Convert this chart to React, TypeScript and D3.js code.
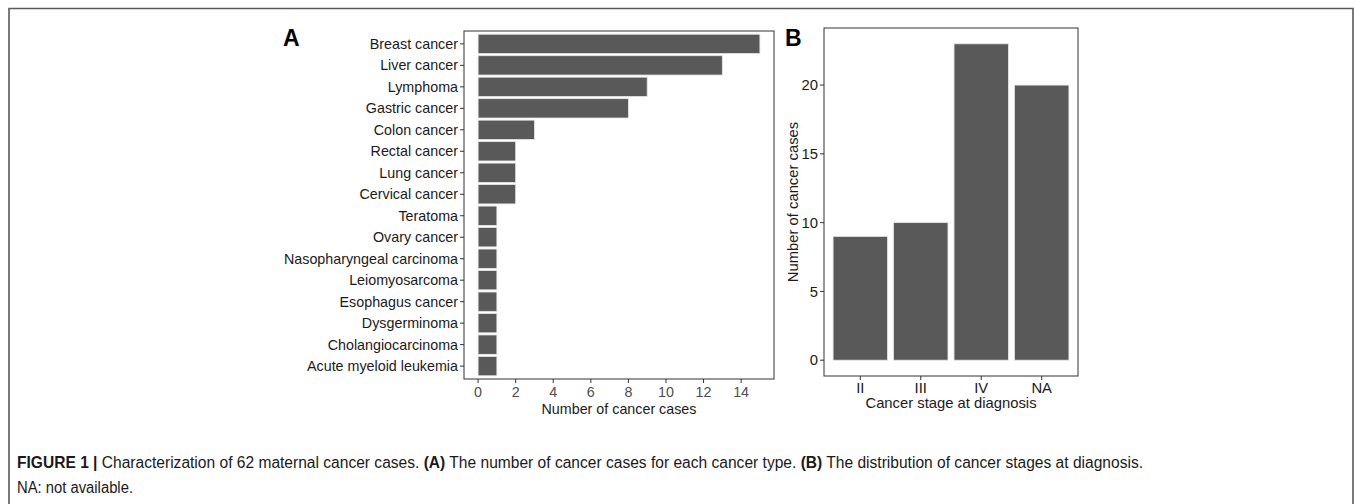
import React from "react";
import * as d3 from "d3";

const cancerTypes = [
  "Breast cancer", "Liver cancer", "Lymphoma", "Gastric cancer", "Colon cancer",
  "Rectal cancer", "Lung cancer", "Cervical cancer", "Teratoma", "Ovary cancer",
  "Nasopharyngeal carcinoma", "Leiomyosarcoma", "Esophagus cancer", "Dysgerminoma",
  "Cholangiocarcinoma", "Acute myeloid leukemia",
];
const cancerCounts = [15, 13, 9, 8, 3, 2, 2, 2, 1, 1, 1, 1, 1, 1, 1, 1];
const xTicksA = [0, 2, 4, 6, 8, 10, 12, 14];

const stages = ["II", "III", "IV", "NA"];
const stageCounts = [9, 10, 23, 20];
const yTicksB = [0, 5, 10, 15, 20];

const FONT = "Liberation Sans, Arial, Helvetica, sans-serif";
const BAR = "#595959";
const BAR_STROKE = "#e6e6e6";
const AXIS = "#333333";
const TEXT = "#1a1a1a";
const FS_A = 14.3;
const FS_B = 14.8;

function PanelA() {
  const left = 464, right = 774, top = 31, bottom = 379;
  const maxV = d3.max(cancerCounts) as number;
  const x = d3.scaleLinear().domain([-maxV * 0.05, maxV * 1.05]).range([left, right]);
  const yIdx = d3.scaleLinear().domain([0.4, cancerTypes.length + 0.6]).range([top, bottom]);
  const bw = (yIdx(1) - yIdx(0)) * 0.9;
  return (
    <g>
      <text x={283} y={46} fontFamily={FONT} fontWeight="bold" fontSize={23} fill="#000">A</text>
      {cancerTypes.map((c, i) => {
        const cy = yIdx(i + 1);
        return (
          <g key={c}>
            <rect x={x(0)} y={cy - bw / 2} width={x(cancerCounts[i]) - x(0)} height={bw}
              fill={BAR} stroke={BAR_STROKE} strokeWidth={0.8} />
            <line x1={left - 4} x2={left} y1={cy} y2={cy} stroke={AXIS} strokeWidth={1} />
            <text x={left - 6} y={cy} dy="0.35em" textAnchor="end" fontFamily={FONT}
              fontSize={FS_A} fill={TEXT}>{c}</text>
          </g>
        );
      })}
      <rect x={left} y={top} width={right - left} height={bottom - top} fill="none"
        stroke={AXIS} strokeWidth={1} />
      {xTicksA.map((t) => (
        <g key={t}>
          <line x1={x(t)} x2={x(t)} y1={bottom} y2={bottom + 4} stroke={AXIS} strokeWidth={1} />
          <text x={x(t)} y={bottom + 13} dy="0.35em" textAnchor="middle" fontFamily={FONT}
            fontSize={FS_A} fill="#4d4d4d">{t}</text>
        </g>
      ))}
      <text x={(left + right) / 2} y={409} dy="0.35em" textAnchor="middle" fontFamily={FONT}
        fontSize={FS_A} fill={TEXT}>Number of cancer cases</text>
    </g>
  );
}

function PanelB() {
  const left = 824, right = 1078, top = 28, bottom = 376;
  const maxV = d3.max(stageCounts) as number;
  const y = d3.scaleLinear().domain([-maxV * 0.05, maxV * 1.05]).range([bottom, top]);
  const xIdx = d3.scaleLinear().domain([0.4, stages.length + 0.6]).range([left, right]);
  const bw = (xIdx(1) - xIdx(0)) * 0.9;
  return (
    <g>
      <text x={785} y={46} fontFamily={FONT} fontWeight="bold" fontSize={23} fill="#000">B</text>
      {stages.map((s, i) => {
        const cx = xIdx(i + 1);
        return (
          <g key={s}>
            <rect x={cx - bw / 2} y={y(stageCounts[i])} width={bw} height={y(0) - y(stageCounts[i])}
              fill={BAR} stroke={BAR_STROKE} strokeWidth={0.8} />
            <line x1={cx} x2={cx} y1={bottom} y2={bottom + 4} stroke={AXIS} strokeWidth={1} />
            <text x={cx} y={bottom + 12} dy="0.35em" textAnchor="middle" fontFamily={FONT}
              fontSize={FS_B} fill={TEXT}>{s}</text>
          </g>
        );
      })}
      <rect x={left} y={top} width={right - left} height={bottom - top} fill="none"
        stroke={AXIS} strokeWidth={1} />
      {yTicksB.map((t) => (
        <g key={t}>
          <line x1={left - 4} x2={left} y1={y(t)} y2={y(t)} stroke={AXIS} strokeWidth={1} />
          <text x={left - 6} y={y(t)} dy="0.35em" textAnchor="end" fontFamily={FONT}
            fontSize={FS_B} fill={TEXT}>{t}</text>
        </g>
      ))}
      <text transform={`translate(793,${(top + bottom) / 2}) rotate(-90)`} dy="0.35em"
        textAnchor="middle" fontFamily={FONT} fontSize={FS_B} fill={TEXT}>Number of cancer cases</text>
      <text x={(left + right) / 2} y={403} dy="0.35em" textAnchor="middle" fontFamily={FONT}
        fontSize={FS_B} fill={TEXT}>Cancer stage at diagnosis</text>
    </g>
  );
}

export default function App() {
  const capFont = "'Liberation Sans Narrow', 'Arial Narrow', Arial, sans-serif";
  return (
    <svg width={1355} height={504} style={{ position: "absolute", left: 0, top: 0, background: "#fff" }}>
      <rect width={1355} height={504} fill="#fff" />
      <path d="M9,504 L9,8.5 L1353,8.5 L1353,504" fill="none" stroke="#5a5a5a" strokeWidth={1.6} />
      <PanelA />
      <PanelB />
      <text transform="translate(17,467.5) scale(1,1.1)" x={0} y={0} fontFamily={capFont}
        fontSize={15.5} fill="#1a1a1a" textLength={1126} lengthAdjust="spacingAndGlyphs">
        <tspan fontWeight="bold">FIGURE 1 | </tspan>
        <tspan>Characterization of 62 maternal cancer cases. </tspan>
        <tspan fontWeight="bold">(A)</tspan>
        <tspan> The number of cancer cases for each cancer type. </tspan>
        <tspan fontWeight="bold">(B)</tspan>
        <tspan> The distribution of cancer stages at diagnosis.</tspan>
      </text>
      <text transform="translate(17,492.5) scale(1,1.1)" x={0} y={0} fontFamily={capFont}
        fontSize={15.5} fill="#1a1a1a" textLength={116} lengthAdjust="spacingAndGlyphs">NA: not available.</text>
    </svg>
  );
}
